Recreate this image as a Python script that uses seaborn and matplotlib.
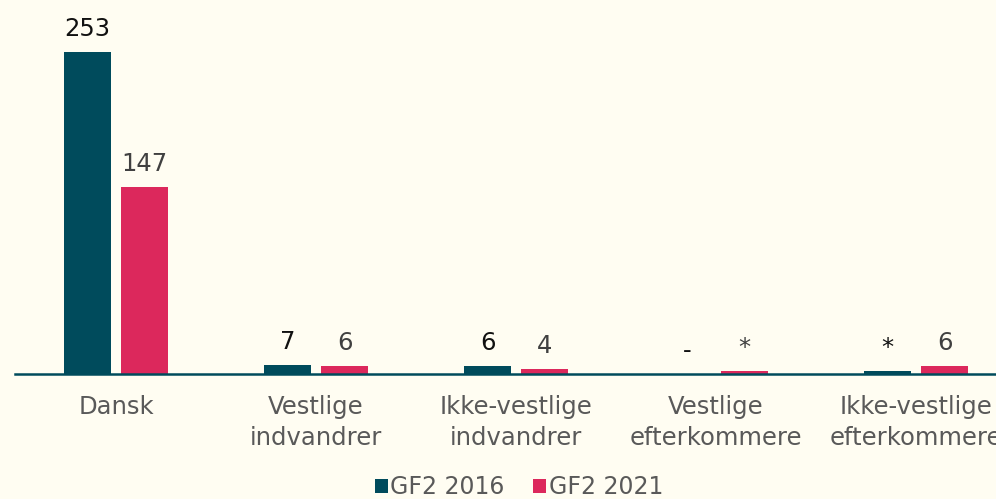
import matplotlib
matplotlib.use("Agg")
import matplotlib.pyplot as plt
import seaborn as sns
import pandas as pd

# data
categories = ["Dansk", "Vestlige\nindvandrer", "Ikke-vestlige\nindvandrer",
              "Vestlige\nefterkommere", "Ikke-vestlige\nefterkommere"]
gf2_2016 = [253, 7, 6, 0, 2]
gf2_2021 = [147, 6, 4, 2, 6]
labels_2016 = ["253", "7", "6", "-", "*"]
labels_2021 = ["147", "6", "4", "*", "6"]
series = ["GF2 2016", "GF2 2021"]

df = pd.DataFrame({
    "kategori": categories * 2,
    "antal": gf2_2016 + gf2_2021,
    "serie": [series[0]] * len(categories) + [series[1]] * len(categories),
})

bg = "#FFFDF2"
teal = "#004B5C"
pink = "#DC285C"

sns.set_theme(style="white")
plt.rcParams["font.family"] = ["DejaVu Sans"]

fig = plt.figure(figsize=(9.96, 4.99), dpi=100, facecolor=bg)
ax = fig.add_axes([15 / 996, 125 / 499, 1002 / 996, 374 / 499])
ax.set_facecolor(bg)

sns.barplot(data=df, x="kategori", y="antal", hue="serie",
            palette=[teal, pink], saturation=1, width=0.57, gap=0.19,
            linewidth=0, ax=ax)

for cont, labs, col in zip(ax.containers, [labels_2016, labels_2021], ["#111111", "#404040"]):
    ax.bar_label(cont, labels=labs, padding=8, fontsize=17.5, color=col)

ax.set_ylim(0, 294)
ax.set_xlim(-0.505, 4.505)
ax.set_xlabel("")
ax.set_ylabel("")
ax.set_yticks([])
for s in ["top", "right", "left"]:
    ax.spines[s].set_visible(False)
ax.spines["bottom"].set_color(teal)
ax.spines["bottom"].set_linewidth(1.8)
ax.tick_params(axis="x", length=0, pad=15, labelsize=17.5, labelcolor="#595959")
for t in ax.get_xticklabels():
    t.set_linespacing(1.38)

handles, labels = ax.get_legend_handles_labels()
ax.get_legend().remove()
fig.legend(handles, labels, loc="center", bbox_to_anchor=(519 / 996, 1 - 487 / 499),
           ncol=2, frameon=False, fontsize=17, labelcolor="#595959",
           handlelength=0.55, handleheight=0.55, handletextpad=0.12, columnspacing=1.2)

fig.savefig("out.png", dpi=100, facecolor=bg)
